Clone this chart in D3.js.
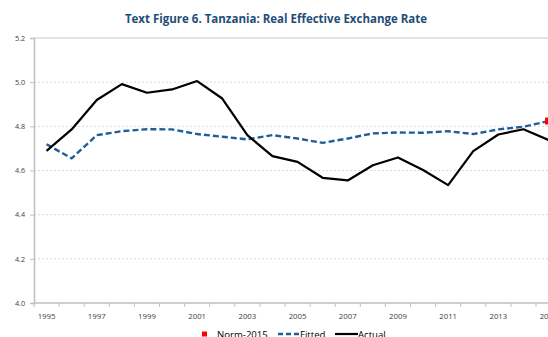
<!DOCTYPE html>
<html>
<head>
<meta charset="utf-8">
<script src="https://cdn.jsdelivr.net/npm/d3@7"></script>
<style>
  html, body { margin: 0; padding: 0; background: #fff; }
  svg { display: block; }
</style>
</head>
<body>
<svg id="chart" width="548" height="337"></svg>
<script>
// Real effective exchange rate (log), Tanzania
const years = d3.range(1995, 2016);
const actual = [4.689, 4.786, 4.919, 4.991, 4.952, 4.967, 5.005, 4.926, 4.760, 4.665,
                4.639, 4.567, 4.555, 4.624, 4.659, 4.602, 4.534, 4.688, 4.763, 4.787, 4.738];
const fitted = [4.719, 4.655, 4.760, 4.778, 4.787, 4.786, 4.765, 4.753, 4.741, 4.760,
                4.745, 4.725, 4.745, 4.768, 4.772, 4.771, 4.778, 4.765, 4.786, 4.798, 4.824];
const norm = [{ year: 2015, value: 4.824 }];
const yTicks = [4.0, 4.2, 4.4, 4.6, 4.8, 5.0, 5.2];
const xLabels = [1995, 1997, 1999, 2001, 2003, 2005, 2007, 2009, 2011, 2013, 2015];

const svg = d3.select("#chart");
const plotLeft = 34, plotTop = 38, plotBottom = 303, bandW = 25.1;
const plotRight = plotLeft + bandW * years.length;

const x = d3.scaleBand().domain(years).range([plotLeft, plotRight]).padding(0);
const y = d3.scaleLinear().domain([4.0, 5.2]).range([plotBottom, plotTop]);
const cx = d => x(d) + x.bandwidth() / 2;

// title
svg.append("text")
  .attr("x", 276).attr("y", 23)
  .attr("text-anchor", "middle")
  .attr("font-family", "'Open Sans', sans-serif")
  .attr("font-weight", "bold")
  .attr("font-size", 11.5)
  .attr("fill", "#1f4e79")
  .text("Text Figure 6. Tanzania: Real Effective Exchange Rate");

// horizontal gridlines
svg.append("g").selectAll("line")
  .data(yTicks.filter(v => v > 4.0))
  .join("line")
  .attr("x1", plotLeft).attr("x2", plotRight)
  .attr("y1", d => y(d)).attr("y2", d => y(d))
  .attr("stroke", d => d === 5.2 ? "#c8c8c8" : "#d9d9d9")
  .attr("stroke-width", 1)
  .attr("stroke-dasharray", d => d === 5.2 ? null : "2,2");

// y axis
const yAxis = d3.axisLeft(y).tickValues(yTicks).tickFormat(d3.format(".1f")).tickSize(4).tickPadding(5);
const gy = svg.append("g").attr("transform", `translate(${plotLeft},0)`).call(yAxis);
gy.select(".domain").attr("stroke", "#bfbfbf").attr("stroke-width", 1.5);
gy.selectAll(".tick line").attr("stroke", "#bfbfbf");
gy.selectAll("text").attr("font-family", "'Open Sans', sans-serif").attr("font-size", 7.2).attr("fill", "#404040");

// x axis: ticks on category boundaries, labels on every other year
const gx = svg.append("g").attr("transform", `translate(0,${plotBottom})`);
gx.append("line").attr("x1", plotLeft).attr("x2", plotRight).attr("stroke", "#bfbfbf").attr("stroke-width", 1.5);
gx.selectAll("line.tk").data(years.concat([years[years.length - 1] + 1]))
  .join("line").attr("class", "tk")
  .attr("x1", (d, i) => plotLeft + i * x.bandwidth()).attr("x2", (d, i) => plotLeft + i * x.bandwidth())
  .attr("y1", 0).attr("y2", 4)
  .attr("stroke", "#bfbfbf");
gx.selectAll("text").data(xLabels).join("text")
  .attr("x", d => cx(d)).attr("y", 16)
  .attr("text-anchor", "middle")
  .attr("font-family", "'Open Sans', sans-serif").attr("font-size", 7.8).attr("fill", "#404040")
  .text(d => d);

// series
const line = d3.line().x((d, i) => cx(years[i])).y(d => y(d));
svg.append("path").datum(fitted)
  .attr("d", line).attr("fill", "none")
  .attr("stroke", "#1f5f99").attr("stroke-width", 2.4)
  .attr("stroke-dasharray", "6,3");
svg.append("path").datum(actual)
  .attr("d", line).attr("fill", "none")
  .attr("stroke", "#000").attr("stroke-width", 2.2)
  .attr("stroke-linejoin", "round");

svg.append("g").selectAll("rect").data(norm).join("rect")
  .attr("x", d => cx(d.year) - 3.5).attr("y", d => y(d.value) - 3.5)
  .attr("width", 7).attr("height", 7).attr("fill", "#ff0000");

// legend
const lg = svg.append("g").attr("font-family", "'Open Sans', sans-serif").attr("font-size", 9.6).attr("fill", "#000");
lg.append("rect").attr("x", 202).attr("y", 331.5).attr("width", 5).attr("height", 5).attr("fill", "#ff0000");
lg.append("text").attr("x", 217).attr("y", 338).text("Norm-2015");
lg.append("line").attr("x1", 278).attr("x2", 300).attr("y1", 334).attr("y2", 334)
  .attr("stroke", "#1f5f99").attr("stroke-width", 2.4).attr("stroke-dasharray", "5,3");
lg.append("text").attr("x", 300).attr("y", 338).text("Fitted");
lg.append("line").attr("x1", 335).attr("x2", 358).attr("y1", 334).attr("y2", 334)
  .attr("stroke", "#000").attr("stroke-width", 2.2);
lg.append("text").attr("x", 358).attr("y", 338).text("Actual");
</script>
</body>
</html>
